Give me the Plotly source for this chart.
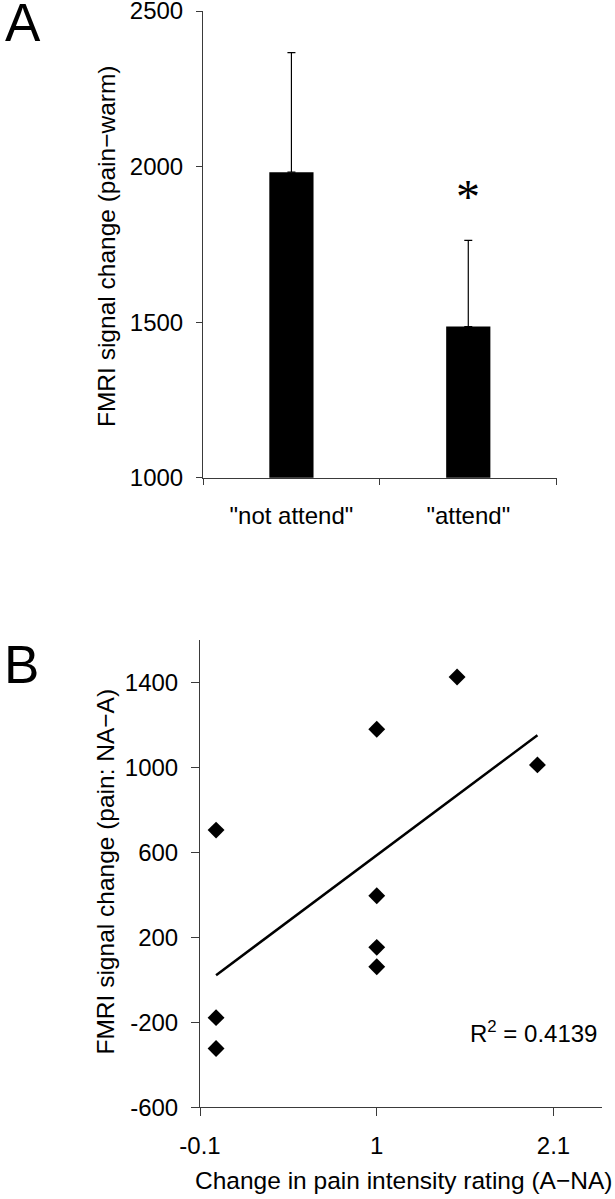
import numpy as np
import plotly.graph_objects as go

# ---------------- data ----------------
# Panel A
categories = ['"not attend"', '"attend"']
bar_values = [1982, 1486]
bar_err_plus = [384, 277]
a_yticks = [1000, 1500, 2000, 2500]
sig_marker_y = 1923  # position of the asterisk over "attend"

# Panel B
rating_change = [0, 0, 0, 1, 1, 1, 1, 1.5, 2]
signal_change = [705, -178, -323, 1180, 396, 153, 62, 1426, 1012]
b_xtick_vals = [-0.1, 1, 2.1]
b_xtick_text = ["-0.1", "1", "2.1"]
b_ytick_vals = [-600, -200, 200, 600, 1000, 1400]
b_ytick_text = ["-600", "-200", "200", "600", "1000", "1400"]
r2_text = "R<sup>2</sup> = 0.4139"

# ---------------- layout helpers ----------------
W, H = 615, 1199
def px(x):
    return x / W
def py(y):
    return 1 - y / H

FONT = "Liberation Sans, Arial, Helvetica, sans-serif"
AX = "#3a3a3a"

fig = go.Figure()

fig.add_trace(go.Bar(
    x=categories, y=bar_values, marker=dict(color="black", line=dict(width=0)),
    error_y=dict(type="data", array=bar_err_plus, arrayminus=[0, 0], symmetric=False,
                 color="black", thickness=1.2, width=4),
    xaxis="x", yaxis="y", showlegend=False,
))

# scatter + trendline
slope, intercept = np.polyfit(rating_change, signal_change, 1)
xl = np.array([min(rating_change), max(rating_change)])
fig.add_trace(go.Scatter(
    x=xl, y=slope * xl + intercept, mode="lines",
    line=dict(color="black", width=2.5), xaxis="x2", yaxis="y2", showlegend=False,
))
fig.add_trace(go.Scatter(
    x=rating_change, y=signal_change, mode="markers",
    marker=dict(symbol="diamond", size=13, color="black"),
    xaxis="x2", yaxis="y2", showlegend=False,
))

common_axis = dict(showline=True, linecolor=AX, linewidth=1, ticks="outside",
                   tickcolor=AX, tickwidth=1, showgrid=False, zeroline=False,
                   automargin=False, ticklabeloverflow="allow",
                   tickfont=dict(size=24, color="black", family=FONT))

fig.update_layout(
    width=W, height=H, margin=dict(l=0, r=0, t=0, b=0, autoexpand=False),
    paper_bgcolor="white", plot_bgcolor="white",
    font=dict(family=FONT, color="black"),
    bargap=0.75,
    xaxis=dict(domain=[px(203), px(556.7)], anchor="y", type="category",
               range=[-0.5, 1.5], tickson="boundaries", ticklen=6,
               ticklabelstandoff=16, **common_axis),
    yaxis=dict(domain=[py(477.7), py(11)], anchor="x", range=[1000, 2500.01],
               tickvals=a_yticks, ticklen=6, ticklabelstandoff=8, **common_axis),
    xaxis2=dict(domain=[px(200), px(601.7)], anchor="y2", range=[-0.1, 2.4],
                tickvals=b_xtick_vals, ticktext=b_xtick_text, ticklen=8,
                ticklabelstandoff=9, **common_axis),
    yaxis2=dict(domain=[py(1107.3), py(640)], anchor="x2", range=[-600, 1600],
                tickvals=b_ytick_vals, ticktext=b_ytick_text, ticklen=8,
                ticklabelstandoff=8, **common_axis),
)

def label(text, x, y, size, angle=0, xanchor="center", **kw):
    return dict(text=text, x=px(x), y=py(y), xref="paper", yref="paper",
                xanchor=xanchor, yanchor="middle", textangle=angle,
                showarrow=False, font=dict(size=size, color="black", family=FONT), **kw)

ann = [
    label("A", 23, 22, 53),
    label("B", 21, 664, 53),
    label("FMRI signal change (pain\u2212warm)", 106, 246, 24.5, angle=-90),
    label("FMRI signal change (pain: NA\u2212A)", 104.5, 872, 24.5, angle=-90),
    label("Change in pain intensity rating (A\u2212NA)", 403, 1180, 24.5),
    label(r2_text, 599, 1032, 24, xanchor="right"),
    dict(text="*", x=categories[1], y=sig_marker_y, xref="x", yref="y",
         xanchor="center", yanchor="middle", showarrow=False, yshift=-6,
         font=dict(size=48, color="black", family="Liberation Serif, serif")),
]
fig.update_layout(annotations=ann)

fig.write_html("out.html", config={"displayModeBar": False},
               post_script="document.body.style.margin='0px';")
